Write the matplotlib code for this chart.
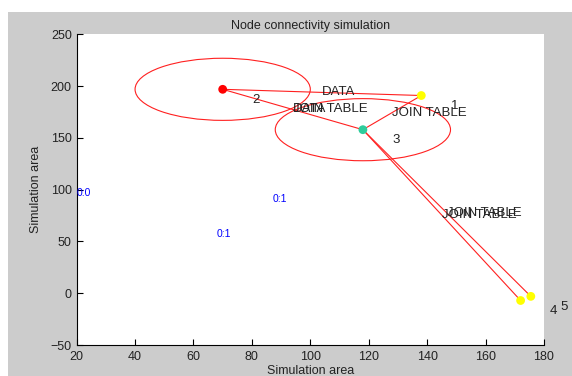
import matplotlib
matplotlib.use("Agg")
import matplotlib.pyplot as plt
from matplotlib.patches import Circle, Rectangle

plt.rcParams['font.family'] = ['Liberation Sans', 'DejaVu Sans']

# node positions (node ids 1..5)
node_ids = [1, 2, 3, 4, 5]
node_x = [138, 70, 118, 172, 175.5]
node_y = [191, 197, 158, -7, -3]
node_colors = ['#ffff00', '#ff0000', '#2ecc9c', '#ffff00', '#ffff00']

# links between nodes and the message shown at each link
link_from = [2, 2, 3, 3, 3]
link_to = [1, 3, 1, 4, 5]
msg_link = [0, 1, 1, 2, 3, 4]
msg_text = ["DATA", "DATA", "JOIN TABLE", "JOIN TABLE", "JOIN TABLE", "JOIN TABLE"]

# transmission range circles
range_nodes = [2, 3]
range_radius = 30

# counters
counter_x = [20, 87, 68]
counter_y = [97, 91, 57]
counter_text = ["0:0", "0:1", "0:1"]

fig = plt.figure(figsize=(5.72, 3.76), dpi=100, facecolor='white')
fig.patches.append(Rectangle((8 / 572, 0), 1, 1 - 12 / 376, transform=fig.transFigure,
                             facecolor='#cccccc', edgecolor='none', zorder=-10))
ax = fig.add_axes([0.134, 0.0824, 0.817, 0.826])
ax.set_facecolor('white')

for a, b in zip(link_from, link_to):
    ax.plot([node_x[a - 1], node_x[b - 1]], [node_y[a - 1], node_y[b - 1]],
            color='#ff2020', lw=0.8, zorder=2)

for n in range_nodes:
    ax.add_patch(Circle((node_x[n - 1], node_y[n - 1]), range_radius, fill=False,
                        edgecolor='#ff2020', lw=0.8, zorder=2))

for k, t in zip(msg_link, msg_text):
    a, b = link_from[k], link_to[k]
    mx = (node_x[a - 1] + node_x[b - 1]) / 2
    my = (node_y[a - 1] + node_y[b - 1]) / 2
    ax.text(mx, my, t, fontsize=9.5, color='#222222', ha='left', va='center', zorder=4)

ax.scatter(node_x, node_y, s=40, c=node_colors, edgecolors='none', zorder=5)
for i, x, y in zip(node_ids, node_x, node_y):
    ax.text(x + 10, y - 10, str(i), fontsize=9.5, color='#222222', ha='left', va='center',
            zorder=4)

for x, y, t in zip(counter_x, counter_y, counter_text):
    ax.text(x, y, t, fontsize=7.5, color='#0000ff', ha='left', va='center', zorder=4)

ax.set_xlim(20, 180)
ax.set_ylim(-50, 250)
ax.set_xticks(range(20, 181, 20))
ax.set_yticks(range(-50, 251, 50))
ax.spines['top'].set_visible(False)
ax.spines['right'].set_visible(False)
ax.tick_params(direction='in', length=4, labelsize=9, colors='black', labelcolor='#222222')
ax.tick_params(axis='x', pad=4)
ax.set_title("Node connectivity simulation", fontsize=9, color='#222222', pad=4)
ax.set_xlabel("Simulation area", fontsize=9, color='#222222', labelpad=2)
ax.set_ylabel("Simulation area", fontsize=9, color='#222222', labelpad=6)

fig.savefig("out.png", dpi=100, facecolor=fig.get_facecolor())
